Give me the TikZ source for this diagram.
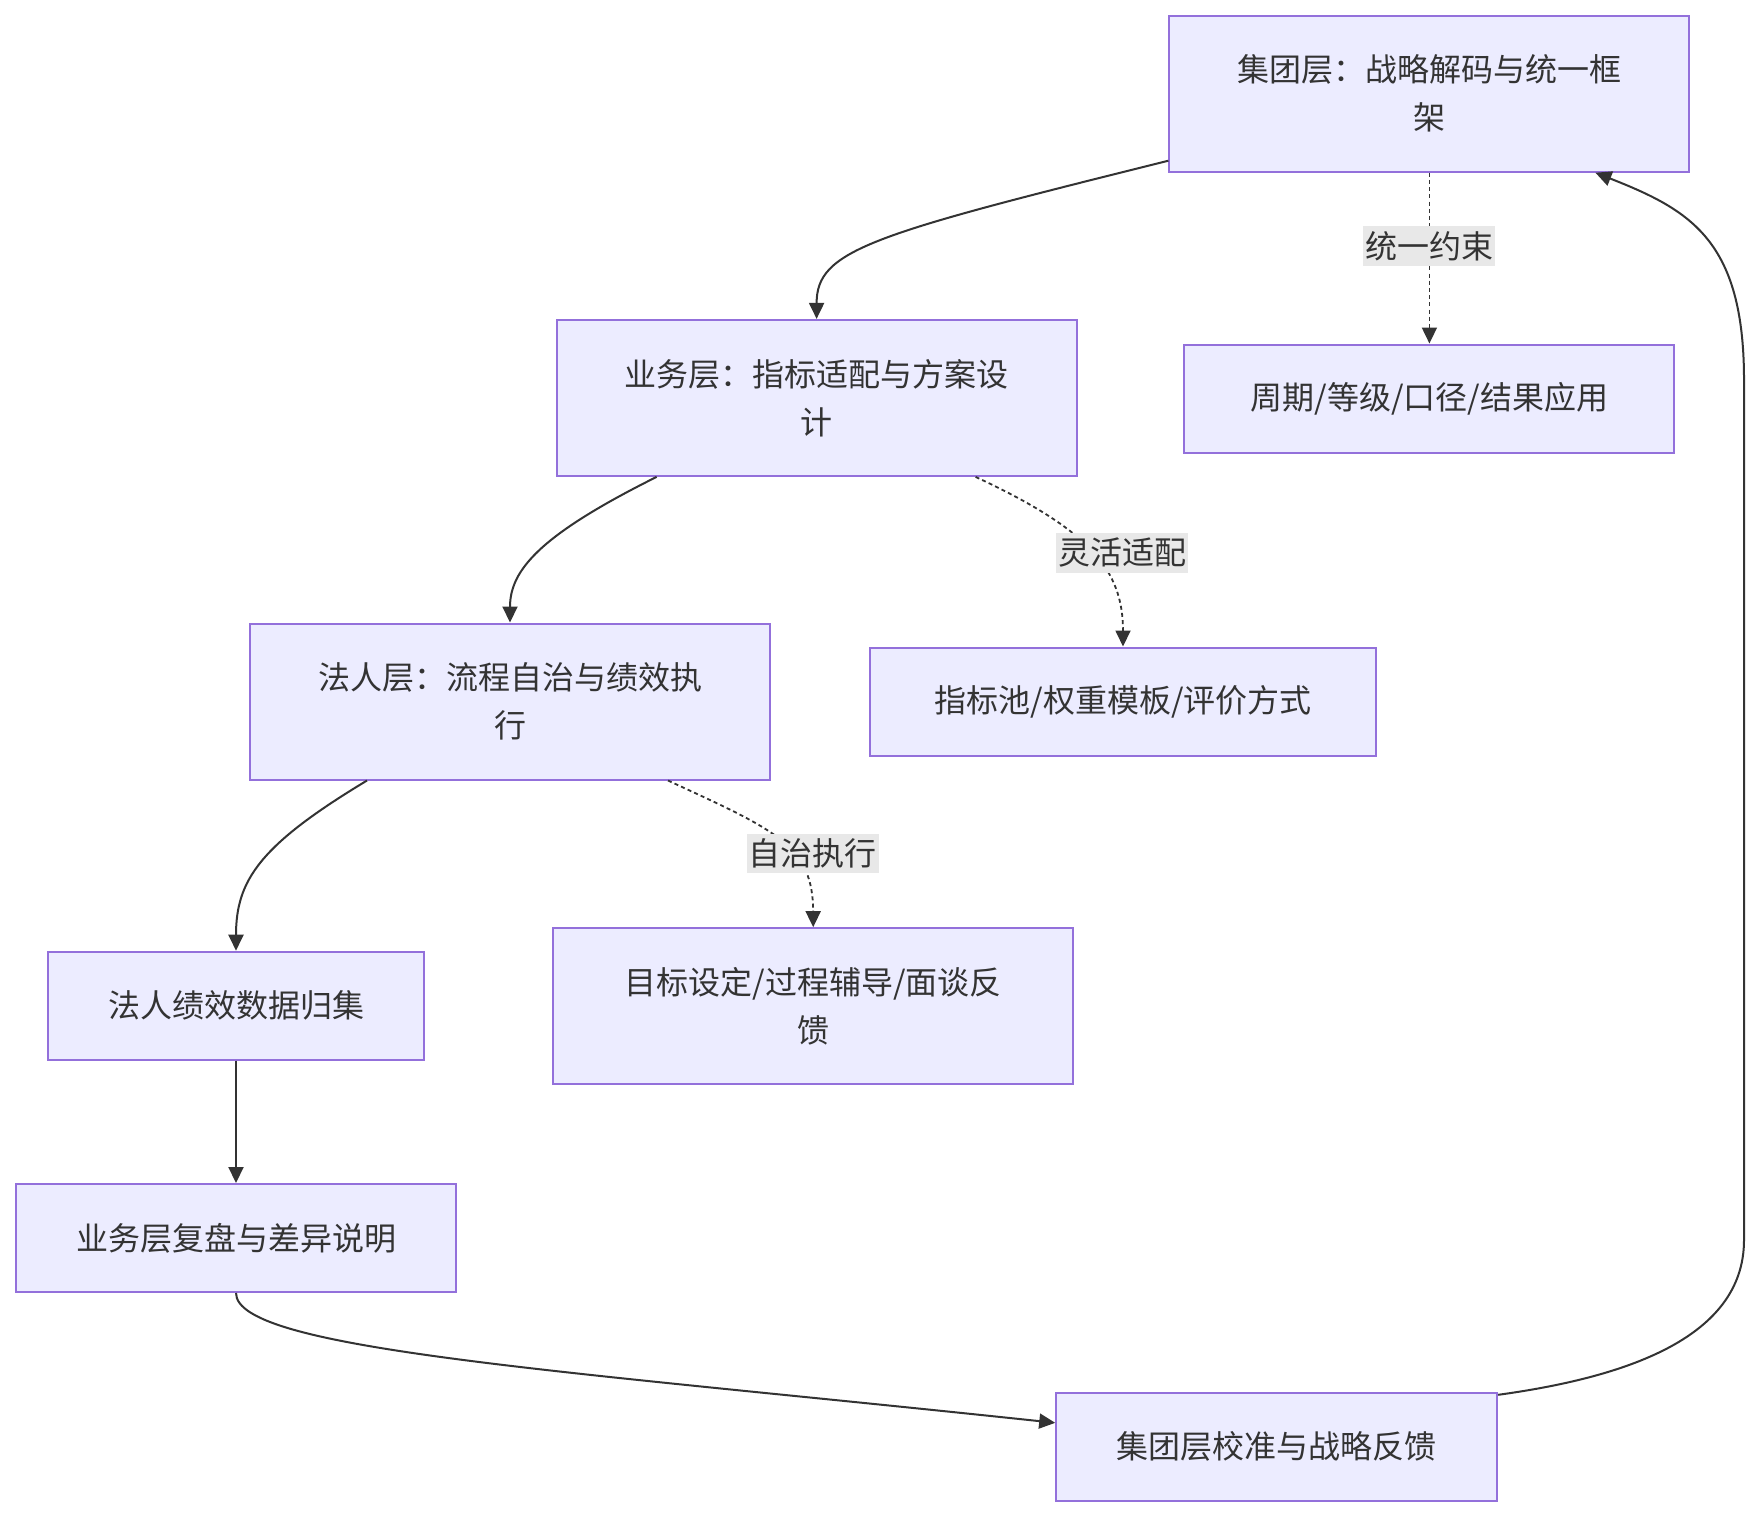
\documentclass[tikz,border=0pt]{standalone}
\usepackage{fontspec}
\setmainfont{Noto Sans CJK SC}
\usepackage{tikz}
\usetikzlibrary{arrows.meta, calc}
\usepackage{xcolor}
\definecolor{cNode}{HTML}{ECECFF}
\definecolor{bNode}{HTML}{9370DB}
\definecolor{cLine}{HTML}{333333}
\definecolor{cText}{HTML}{333333}
\definecolor{cLbl} {HTML}{E8E8E8}
\tikzset{
  box/.style={draw=bNode, fill=cNode, line width=1pt, align=center,
              font=\fontsize{16}{24}\selectfont, text=cText, inner sep=0pt},
  tallbox/.style={box, minimum width=260pt, minimum height=78pt},
  flatbox/.style={box, minimum height=54pt},
  arr/.style={-{Triangle[length=8pt,width=7.5pt]}, draw=cLine, line width=1pt},
  dotarr/.style={arr, line width=0.9pt, dash pattern=on 2pt off 1.6pt},
  edgelbl/.style={fill=cLbl, text=cText, font=\fontsize{16}{24}\selectfont,
                  inner xsep=1pt, inner ysep=2.5pt},
}

\begin{document}
\begin{tikzpicture}[x=0.5pt, y=-0.5pt]

% ── Canvas ────────────────────────────────────────────────────────────────────
\fill[white] (0,0) rectangle (1760,1516);
\useasboundingbox (0,0) rectangle (1760,1516);

% ── Nodes ─────────────────────────────────────────────────────────────────────

\node[tallbox] (grp) at (1429.4, 93.7)
  {集团层：战略解码与统一框\\架};

\node[flatbox, minimum width=245pt] (rules) at (1429.4, 398.5)
  {周期/等级/口径/结果应用};

\node[tallbox] (biz) at (816.6, 397.9)
  {业务层：指标适配与方案设\\计};

\node[flatbox, minimum width=253pt] (pool) at (1123, 701.5)
  {指标池/权重模板/评价方式};

\node[tallbox] (ent) at (510, 701.5)
  {法人层：流程自治与绩效执\\行};

\node[flatbox, minimum width=188pt] (data) at (236, 1005.7)
  {法人绩效数据归集};

\node[tallbox] (exec) at (813.2, 1006.2)
  {目标设定/过程辅导/面谈反\\馈};

\node[flatbox, minimum width=220pt] (review) at (236, 1238)
  {业务层复盘与差异说明};

\node[flatbox, minimum width=220.5pt] (calib) at (1276.7, 1446.8)
  {集团层校准与战略反馈};

% ── Arrows ────────────────────────────────────────────────────────────────────

% Top-down cascade
\draw[arr] ($(grp.south west)+(0,-12)$)
  .. controls (870,235) and (816.6,250) .. (biz.north);
\draw[arr] ($(biz.south west)+(101,0)$)
  .. controls (540,535) and (510,570) .. (ent.north);
\draw[arr] ($(ent.south west)+(118,0)$)
  .. controls (260,845) and (236,880) .. (data.north);

% Dotted side branches
\draw[dotarr] (grp.south) -- node[edgelbl, pos=0.43] {统一约束} (rules.north);
\draw[dotarr] ($(biz.south east)+(-102,0)$)
  .. controls (1090,530) and (1123,570) .. node[edgelbl, pos=0.5, xshift=15pt] {灵活适配} (pool.north);
\draw[dotarr] ($(ent.south east)+(-103,0)$)
  .. controls (775,830) and (813,845) .. node[edgelbl, pos=0.5, xshift=16pt, yshift=-6pt] {自治执行} (exec.north);

% Bottom-up feedback loop
\draw[arr] (data) -- (review);
\draw[arr] (review.south)
  .. controls (236,1350) and (560,1370) .. ($(calib.west)+(0,-24)$);
\draw[arr] ($(calib.north east)+(0,3)$)
  .. controls (1620,1378) and (1744,1340) .. (1744,1240)
  -- (1744,380)
  .. controls (1744,240) and (1690,210) .. ($(grp.south east)+(-95,0)$);

\end{tikzpicture}
\end{document}
